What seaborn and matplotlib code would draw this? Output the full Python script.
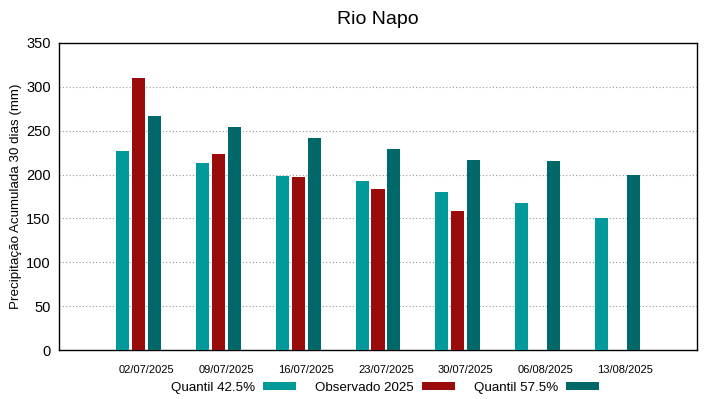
import matplotlib
matplotlib.use("Agg")
import matplotlib.pyplot as plt
import matplotlib.transforms as mtransforms
import numpy as np
import pandas as pd
import seaborn as sns
from matplotlib.patches import Patch

# dados
datas = ["02/07/2025", "09/07/2025", "16/07/2025", "23/07/2025",
         "30/07/2025", "06/08/2025", "13/08/2025"]
quantil_425 = [227, 213, 198, 193, 180, 168, 150]
observado_2025 = [310, 224, 197, 184, 159, np.nan, np.nan]
quantil_575 = [267, 254, 242, 229, 217, 215, 199]

series = ["Quantil 42.5%", "Observado 2025", "Quantil 57.5%"]
cores = ["#009a9a", "#9a0c0c", "#006868"]

df = pd.DataFrame({
    "data": datas * 3,
    "serie": [series[0]] * 7 + [series[1]] * 7 + [series[2]] * 7,
    "valor": quantil_425 + observado_2025 + quantil_575,
})

sns.set_style("white")
plt.rcParams["font.family"] = ["Liberation Sans", "DejaVu Sans"]
plt.rcParams["text.color"] = "black"
plt.rcParams["axes.labelcolor"] = "black"
plt.rcParams["xtick.color"] = "black"
plt.rcParams["ytick.color"] = "black"

fig = plt.figure(figsize=(7.19, 3.99), dpi=100)
ax = fig.add_axes([59 / 719, 49 / 399, 638 / 719, 307 / 399])

sns.barplot(data=df, x="data", y="valor", hue="serie", order=datas,
            hue_order=series, palette=cores, width=0.6, gap=0.18,
            saturation=1, legend=False, ax=ax, zorder=3,
            edgecolor="none", linewidth=0)

ax.set_xlim(-1, 7)
ax.set_ylim(0, 350)
ax.set_yticks(range(0, 351, 50))
ax.yaxis.grid(True, linestyle=(0, (1, 2)), color="#999999", linewidth=0.8, zorder=0)
ax.xaxis.grid(False)
ax.set_axisbelow(True)
for s in ax.spines.values():
    s.set_color("black")
    s.set_linewidth(1)

ax.tick_params(axis="x", direction="in", length=5, pad=11, labelsize=8)
ax.tick_params(axis="y", length=0, pad=6, labelsize=10.5)
# rótulos do eixo x levemente deslocados para a direita
desloc = mtransforms.ScaledTranslation(8 / 100, 0, fig.dpi_scale_trans)
for lbl in ax.get_xticklabels():
    lbl.set_transform(lbl.get_transform() + desloc)
ax.set_xlabel("")
ax.set_ylabel("Precipitação Acumulada 30 dias (mm)", fontsize=9.6, labelpad=3)
ax.set_title("Rio Napo", fontsize=14, pad=14, color="black")

handles = [Patch(facecolor=c, edgecolor="none") for c in cores]
fig.legend(handles, series, loc="lower center", bbox_to_anchor=(385 / 719, 0.0),
           ncol=3, frameon=False, markerfirst=False, fontsize=9.6,
           handlelength=2.5, handleheight=0.6, columnspacing=1.4, handletextpad=0.6,
           borderaxespad=0.1, borderpad=0.3)

fig.savefig("out.png", dpi=100)
plt.close(fig)
